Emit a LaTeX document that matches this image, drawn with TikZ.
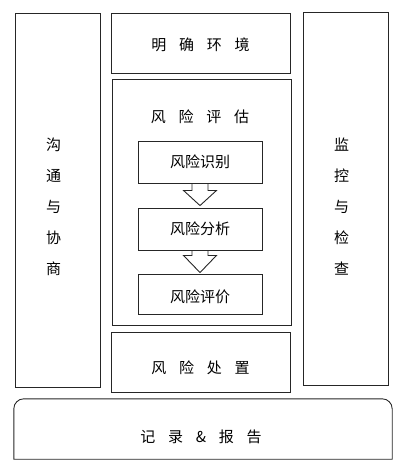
\documentclass[tikz,border=0pt]{standalone}
\usepackage{fontspec}
\newfontfamily\cjk{Noto Sans CJK SC}
\usetikzlibrary{calc}
\newcommand\cjkgap{\hspace{0.85em}}

\begin{document}
\begin{tikzpicture}[x=1pt,y=-1pt,
  box/.style={draw=black!85,line width=0.9pt,inner sep=0pt,font=\cjk\fontsize{15}{18}\selectfont},
  txt/.style={font=\cjk\fontsize{15}{18}\selectfont,inner sep=0pt},
  coltxt/.style={txt,align=center,font=\cjk\fontsize{15}{31}\selectfont},
  blockarr/.style={draw=black!85,line width=0.9pt,line join=miter}]
\useasboundingbox (0,0) rectangle (405,469);

% side columns
\node[box,minimum width=85,minimum height=374,
  label={[coltxt,xshift=-4pt,yshift=-7pt]center:沟\\通\\与\\协\\商}] (comm) at (57.5,200) {};
\node[box,minimum width=85,minimum height=373,
  label={[coltxt,xshift=-4pt,yshift=-8pt]center:监\\控\\与\\检\\查}] (monit) at (345.5,198.5) {};

% middle column
\node[box,minimum width=179,minimum height=60,
  label={[txt,yshift=-2pt]center:明\cjkgap{}确\cjkgap{}环\cjkgap{}境}] (ctx) at (200.5,43) {};
\node[box,minimum width=179,minimum height=246] (assess) at (201.5,202) {};
\node[txt] (assesstitle) at (200,117) {风\cjkgap{}险\cjkgap{}评\cjkgap{}估};
\node[box,minimum width=124,minimum height=42] (ident) at (200,162) {风险识别};
\node[box,minimum width=124,minimum height=42] (analy) at (200,229) {风险分析};
\node[box,minimum width=124,minimum height=40,
  label={[txt,yshift=-3pt]center:风险评价}] (evalu) at (200,294) {};
\node[box,minimum width=179,minimum height=60,
  label={[txt,yshift=-6pt]center:风\cjkgap{}险\cjkgap{}处\cjkgap{}置}] (treat) at (200.5,362) {};

% block arrows
\draw[blockarr] ($(ident.south)+(-8,0)$) -- ++(0,7) -- ++(-8.5,0)
  -- ($(analy.north)+(0,-2)$) -- ($(ident.south)+(16.5,7)$) -- ++(-8.5,0) -- ++(0,-7);
\draw[blockarr] ($(analy.south)+(-8,0)$) -- ++(0,5) -- ++(-8.5,0)
  -- ($(evalu.north)+(0,-1)$) -- ($(analy.south)+(16.5,5)$) -- ++(-8.5,0) -- ++(0,-5);

% bottom bar
\node[minimum width=378,minimum height=60,inner sep=0pt,
  label={[txt,xshift=-2pt,yshift=-8pt]center:记\cjkgap{}录\cjkgap{}\&\cjkgap{}报\cjkgap{}告}] (record) at (203,429) {};
\draw[draw=black!85,line width=0.9pt] (record.south west) [rounded corners=10pt] -- (record.north west)
  -- (record.north east) [sharp corners] -- (record.south east) -- cycle;

\end{tikzpicture}
\end{document}
